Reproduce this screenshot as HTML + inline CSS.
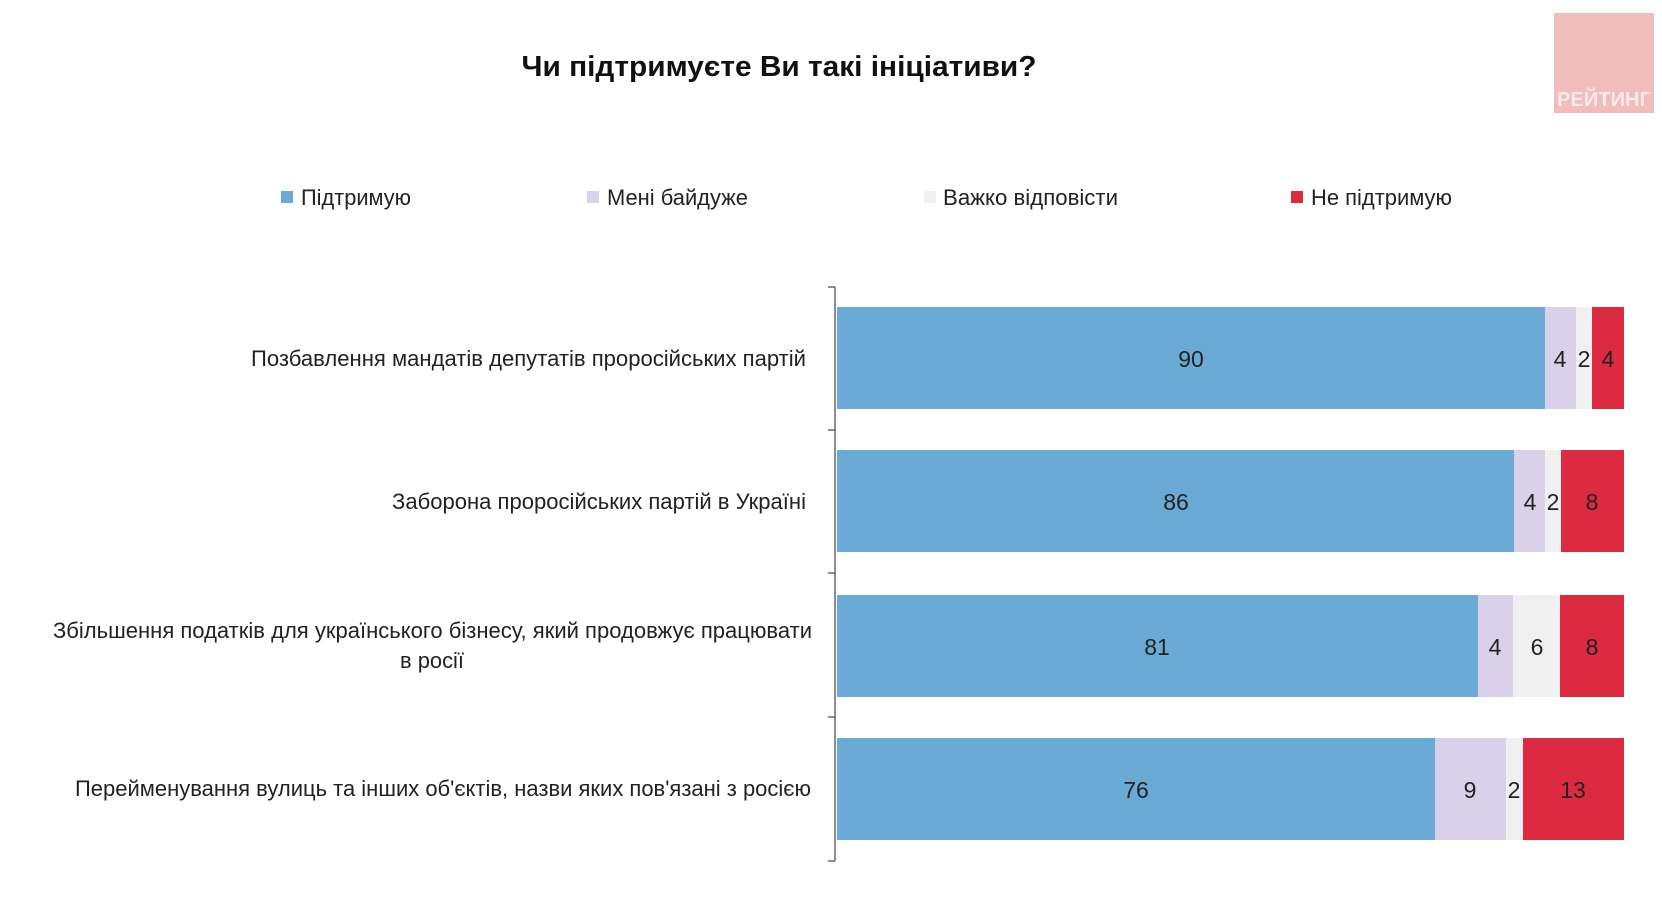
<!DOCTYPE html>
<html><head><meta charset="utf-8"><style>html,body{margin:0;padding:0;background:#fff}svg{display:block}</style></head>
<body>
<svg width="1662" height="898" viewBox="0 0 1662 898" xmlns="http://www.w3.org/2000/svg" font-family="Liberation Sans, Arial, sans-serif">
<rect width="1662" height="898" fill="#fff"/>
<text x="779" y="76" font-size="29" font-weight="bold" text-anchor="middle" fill="#111" textLength="515" lengthAdjust="spacingAndGlyphs">Чи підтримуєте Ви такі ініціативи?</text>
<rect x="1554" y="13" width="100" height="100" fill="#f0bcbc"/>
<text x="1604" y="106" font-size="20" font-weight="bold" text-anchor="middle" fill="#fbeaea" textLength="94" lengthAdjust="spacingAndGlyphs">РЕЙТИНГ</text>
<g font-size="22" fill="#222">
<rect x="281" y="191" width="12" height="12" fill="#6aaad4"/><text x="301" y="205" textLength="110" lengthAdjust="spacingAndGlyphs">Підтримую</text>
<rect x="587" y="191" width="12" height="12" fill="#d9d0ea"/><text x="607" y="205" textLength="141" lengthAdjust="spacingAndGlyphs">Мені байдуже</text>
<rect x="924" y="191" width="12" height="12" fill="#f0f0f0"/><text x="943" y="205" textLength="175" lengthAdjust="spacingAndGlyphs">Важко відповісти</text>
<rect x="1291" y="191" width="12" height="12" fill="#dc2a40"/><text x="1311" y="205" textLength="141" lengthAdjust="spacingAndGlyphs">Не підтримую</text>
</g>
<g stroke="#444" stroke-width="1.2">
<line x1="835" y1="287" x2="835" y2="861"/>
<line x1="828" y1="287" x2="835" y2="287"/><line x1="828" y1="430" x2="835" y2="430"/><line x1="828" y1="573" x2="835" y2="573"/><line x1="828" y1="717" x2="835" y2="717"/><line x1="828" y1="861" x2="835" y2="861"/>
</g>
<g font-size="22" fill="#222" text-anchor="end">
<text x="806" y="366" textLength="555" lengthAdjust="spacingAndGlyphs">Позбавлення мандатів депутатів проросійських партій</text>
<text x="806" y="509" textLength="414" lengthAdjust="spacingAndGlyphs">Заборона проросійських партій в Україні</text>
<text x="812" y="638" textLength="759" lengthAdjust="spacingAndGlyphs">Збільшення податків для українського бізнесу, який продовжує працювати</text>
<text x="464" y="668" textLength="64" lengthAdjust="spacingAndGlyphs">в росії</text>
<text x="811" y="796" textLength="736" lengthAdjust="spacingAndGlyphs">Перейменування вулиць та інших об'єктів, назви яких пов'язані з росією</text>
</g>
<g font-size="23" text-anchor="middle" fill="#222">
<rect x="837" y="307" width="708" height="102" fill="#6aaad4"/><rect x="1545" y="307" width="31" height="102" fill="#d9d0ea"/><rect x="1576" y="307" width="16" height="102" fill="#f0f0f0"/><rect x="1592" y="307" width="32" height="102" fill="#dc2a40"/>
<text x="1191" y="367">90</text><text x="1560" y="367">4</text><text x="1584" y="367">2</text><text x="1608" y="367">4</text>
<rect x="837" y="450" width="677" height="102" fill="#6aaad4"/><rect x="1514" y="450" width="31" height="102" fill="#d9d0ea"/><rect x="1545" y="450" width="16" height="102" fill="#f0f0f0"/><rect x="1561" y="450" width="63" height="102" fill="#dc2a40"/>
<text x="1176" y="510">86</text><text x="1530" y="510">4</text><text x="1553" y="510">2</text><text x="1592" y="510">8</text>
<rect x="837" y="595" width="641" height="102" fill="#6aaad4"/><rect x="1478" y="595" width="35" height="102" fill="#d9d0ea"/><rect x="1513" y="595" width="47" height="102" fill="#f0f0f0"/><rect x="1560" y="595" width="64" height="102" fill="#dc2a40"/>
<text x="1157" y="655">81</text><text x="1495" y="655">4</text><text x="1537" y="655">6</text><text x="1592" y="655">8</text>
<rect x="837" y="738" width="598" height="102" fill="#6aaad4"/><rect x="1435" y="738" width="71" height="102" fill="#d9d0ea"/><rect x="1506" y="738" width="17" height="102" fill="#f0f0f0"/><rect x="1523" y="738" width="101" height="102" fill="#dc2a40"/>
<text x="1136" y="798">76</text><text x="1470" y="798">9</text><text x="1514" y="798">2</text><text x="1573" y="798">13</text>
</g>
</svg>
</body></html>
